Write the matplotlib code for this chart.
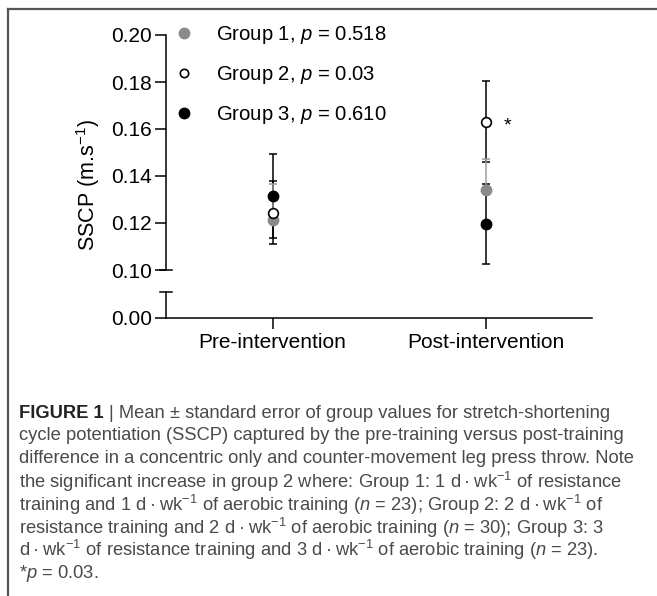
import matplotlib
matplotlib.use('Agg')
import matplotlib.pyplot as plt
from matplotlib.lines import Line2D

plt.rcParams['font.family'] = ['Liberation Sans', 'DejaVu Sans']
plt.rcParams['mathtext.fontset'] = 'custom'
plt.rcParams['mathtext.rm'] = 'Liberation Sans'
plt.rcParams['mathtext.it'] = 'Liberation Sans:italic'
plt.rcParams['mathtext.bf'] = 'Liberation Sans:bold'

# ---------------- data ----------------
timepoints = ['Pre-intervention', 'Post-intervention']
group_names = ['Group 1', 'Group 2', 'Group 3']
p_values = ['0.518', '0.03', '0.610']
g1_mean = [0.1213, 0.1340]
g1_se = [0.0153, 0.0132]
g2_mean = [0.1244, 0.1631]
g2_se = [0.0133, 0.0173]
g3_mean = [0.1315, 0.1196]
g3_se = [0.0179, 0.0170]
y_ticks_top = [0.10, 0.12, 0.14, 0.16, 0.18, 0.20]
y_ticks_bottom = [0.00]
y_label = 'SSCP (m.s$^{\\mathrm{-1}}$)'
caption_lines = [
    '| Mean \u00b1 standard error of group values for stretch-shortening',
    'cycle potentiation (SSCP) captured by the pre-training versus post-training',
    'difference in a concentric only and counter-movement leg press throw. Note',
    'the significant increase in group 2 where: Group 1: 1 d\u2009\u00b7\u2009wk$^{-1}$ of resistance',
    'training and 1 d\u2009\u00b7\u2009wk$^{-1}$ of aerobic training ($n$ = 23); Group 2: 2 d\u2009\u00b7\u2009wk$^{-1}$ of',
    'resistance training and 2 d\u2009\u00b7\u2009wk$^{-1}$ of aerobic training ($n$ = 30); Group 3: 3',
    'd\u2009\u00b7\u2009wk$^{-1}$ of resistance training and 3 d\u2009\u00b7\u2009wk$^{-1}$ of aerobic training ($n$ = 23).',
    '*$p$ = 0.03.',
]

W_PX, H_PX = 657, 596
fig = plt.figure(figsize=(W_PX / 100, H_PX / 100), dpi=100)
fig.patch.set_facecolor('white')

def fx(px):
    return px / W_PX

def fy(py):
    return 1 - py / H_PX

ax_left, ax_right = 166, 592
ax_top = fig.add_axes([fx(ax_left), fy(270), fx(ax_right - ax_left), fy(35) - fy(270)])
ax_bot = fig.add_axes([fx(ax_left), fy(318), fx(ax_right - ax_left), fy(292) - fy(318)])

x = [0, 1]
c_g1 = '#8a8a8a'
c_g1_err = '#9a9a9a'
lw = 1.1
cap = 3

# error bars (lines) first
ax_top.errorbar(x, g3_mean, yerr=g3_se, fmt='none', ecolor='black', elinewidth=lw,
                capsize=cap, capthick=lw, zorder=2)
ax_top.errorbar(x, g2_mean, yerr=g2_se, fmt='none', ecolor='black', elinewidth=lw,
                capsize=cap, capthick=lw, zorder=2)
ax_top.errorbar(x, g1_mean, yerr=[[0, 0], g1_se], fmt='none', ecolor=c_g1_err, elinewidth=lw,
                capsize=cap, capthick=lw, zorder=3)
# markers
ms = 7.5
ax_top.plot(x, g1_mean, 'o', color=c_g1, ms=ms, mec=c_g1, ls='none', zorder=4)
ax_top.plot(x, g2_mean, 'o', mfc='white', mec='black', mew=1.2, ms=ms - 0.5, ls='none', zorder=4)
ax_top.plot(x, g3_mean, 'o', color='black', ms=ms, ls='none', zorder=4)

ax_top.text(1 + 0.105, g2_mean[1] - 0.002, '*', fontsize=14, ha='center', va='center')

FS = 15
for ax in (ax_top, ax_bot):
    ax.set_xlim(-0.5, 1.5)
    ax.spines['top'].set_visible(False)
    ax.spines['right'].set_visible(False)
    ax.spines['left'].set_linewidth(1.1)
    ax.spines['bottom'].set_linewidth(1.1)
    ax.tick_params(axis='both', direction='out', length=8, width=1.1, labelsize=FS, pad=2)
    ax.patch.set_alpha(0)

ax_top.spines['bottom'].set_visible(False)
ax_top.set_ylim(0.10, 0.20)
ax_top.set_yticks(y_ticks_top)
ax_top.set_yticklabels([f'{v:.2f}' for v in y_ticks_top])
ax_top.set_xticks([])

ax_bot.set_ylim(0.0, 0.011)
ax_bot.set_yticks(y_ticks_bottom)
ax_bot.set_yticklabels([f'{v:.2f}' for v in y_ticks_bottom])
ax_bot.set_xticks(x)
ax_bot.set_xticklabels(timepoints)
ax_bot.tick_params(axis='x', pad=3, labelsize=FS)

# break marks
hw = 6 / (ax_right - ax_left)
ax_top.plot([-hw, hw], [0, 0], transform=ax_top.transAxes, color='black', lw=1.1, clip_on=False)
ax_bot.plot([-hw, hw], [1, 1], transform=ax_bot.transAxes, color='black', lw=1.1, clip_on=False)

# legend
handles = [
    Line2D([], [], marker='o', ls='none', color=c_g1, mec=c_g1, ms=ms),
    Line2D([], [], marker='o', ls='none', mfc='white', mec='black', mew=1.2, ms=ms - 1.5),
    Line2D([], [], marker='o', ls='none', color='black', ms=ms),
]
labels = [f'{g}, $p$ = {p}' for g, p in zip(group_names, p_values)]
fig.legend(handles, labels, loc='upper left', bbox_to_anchor=(fx(173.5), fy(24)),
           bbox_transform=fig.transFigure, frameon=False, fontsize=14.6,
           handlelength=1.0, handletextpad=1.1, labelspacing=0.88,
           borderpad=0, borderaxespad=0)

fig.text(fx(88), fy(185), y_label, rotation=90, ha='center', va='center', fontsize=15.5)

# frame lines
fig.add_artist(Line2D([fx(8), 1], [fy(9), fy(9)], transform=fig.transFigure, color='#555555', lw=1.6))
fig.add_artist(Line2D([fx(8), fx(8)], [fy(9), 0], transform=fig.transFigure, color='#555555', lw=1.6))

# caption
cap_fs = 13.2
cap_color = '#4a4a4a'
x0 = fx(19)
renderer = fig.canvas.get_renderer()
t0 = fig.text(x0, fy(413), 'FIGURE 1 ', fontsize=cap_fs, fontweight='bold', color='#222222',
              va='center', ha='left')
bb = t0.get_window_extent(renderer)
for i, line in enumerate(caption_lines):
    xx = x0 if i > 0 else bb.x1 / W_PX
    fig.text(xx, fy(413 + 22.9 * i), line, fontsize=cap_fs, color=cap_color, va='center', ha='left')

fig.savefig('out.png', dpi=100)
